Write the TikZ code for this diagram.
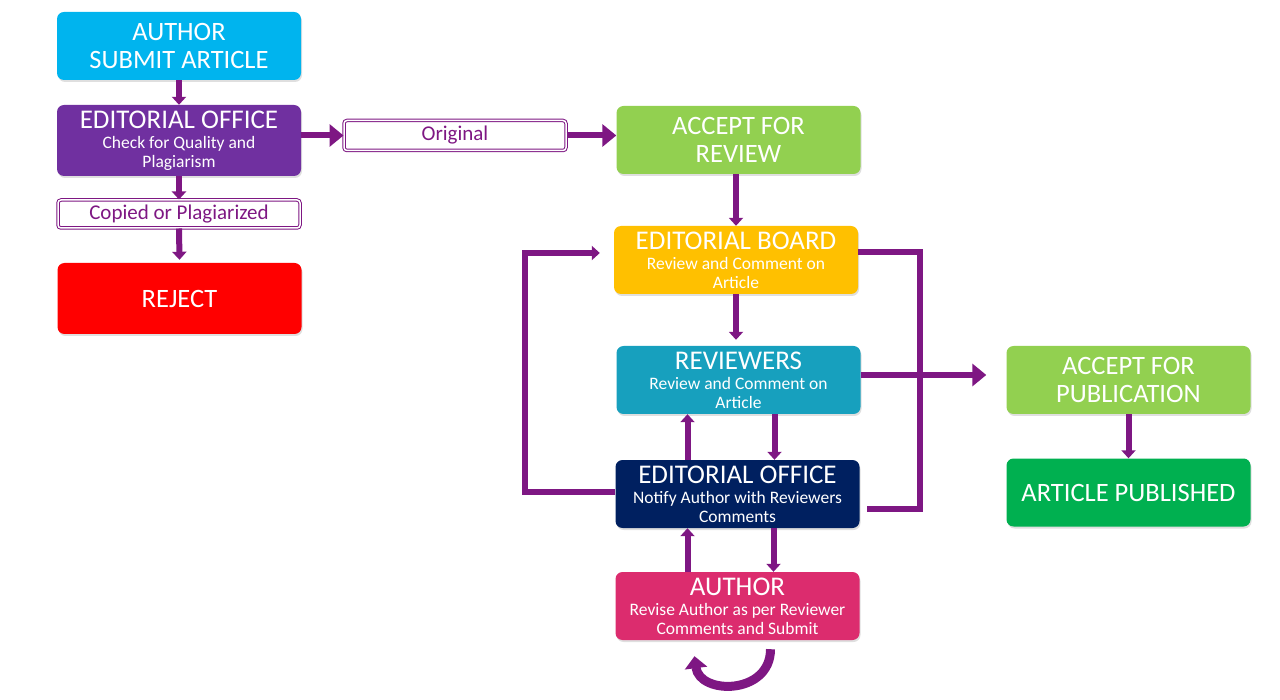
\documentclass[tikz,border=0pt]{standalone}
\usepackage{fontspec}
\setmainfont{Carlito}
\usetikzlibrary{arrows.meta,shadows,calc}
\definecolor{cCyan}{HTML}{00B4EE}
\definecolor{cPurp}{HTML}{7030A0}
\definecolor{cRed}{HTML}{FF0000}
\definecolor{cLGreen}{HTML}{92D050}
\definecolor{cGold}{HTML}{FFC000}
\definecolor{cTeal}{HTML}{17A0BE}
\definecolor{cNavy}{HTML}{002060}
\definecolor{cPink}{HTML}{DC2C6E}
\definecolor{cGreen}{HTML}{00B050}
\definecolor{cArrow}{HTML}{7E1783}
\newcommand{\ttl}[1]{{\fontsize{27}{28}\selectfont #1}}
\tikzset{
  box/.style={rounded corners=7pt, minimum width=244pt, minimum height=68pt,
    text=white, align=center, inner sep=1pt,
    drop shadow={opacity=0.25, shadow xshift=1pt, shadow yshift=-2pt}},
  tbox/.style={box, font=\fontsize{26.5}{28.5}\selectfont},
  sbox/.style={box, font=\fontsize{17.5}{18.5}\selectfont},
  lbl/.style={draw=cArrow, line width=1pt, double=white, double distance=1.5pt,
    fill=white, rounded corners=3pt, text=cArrow, minimum height=28pt,
    inner sep=1pt, font=\fontsize{21}{24}\selectfont},
  ln/.style={draw=cArrow, line width=6pt},
  sarr/.style={ln, -{Triangle[length=8pt,width=14pt]}},
  barr/.style={ln, -{Triangle[length=14pt,width=22pt]}}
}
\begin{document}
\begin{tikzpicture}[x=1pt,y=-1pt]
\useasboundingbox (0,0) rectangle (1280,700);
% left column
\node[tbox, fill=cCyan] (as) at (179,46) {AUTHOR\\SUBMIT ARTICLE};
\node[sbox, fill=cPurp, minimum height=71pt] (eo1) at (179,140.5) {\ttl{EDITORIAL OFFICE}\\[2pt]Check for Quality and\\Plagiarism};
\node[lbl, minimum width=242pt] (cp) at (179,214) {Copied or Plagiarized};
\node[tbox, fill=cRed, minimum height=71pt] (rj) at (179.5,298.5) {REJECT};
% top middle
\node[lbl, minimum width=222pt, minimum height=30pt] (og) at (455,135.5) {Original};
\node[tbox, fill=cLGreen] (ar) at (738.5,140) {ACCEPT FOR\\REVIEW};
% middle column
\node[sbox, fill=cGold] (eb) at (736,260) {\ttl{EDITORIAL BOARD}\\[2pt]Review and Comment on\\Article};
\node[sbox, fill=cTeal] (rv) at (738.5,380) {\ttl{REVIEWERS}\\[2pt]Review and Comment on\\Article};
\node[sbox, fill=cNavy] (eo2) at (737.5,494) {\ttl{EDITORIAL OFFICE}\\[2pt]Notify Author with Reviewers\\Comments};
\node[sbox, fill=cPink] (au) at (737.5,606) {\ttl{AUTHOR}\\[2pt]Revise Author as per Reviewer\\Comments and Submit};
% right column
\node[tbox, fill=cLGreen] (ap) at (1128.5,380) {ACCEPT FOR\\PUBLICATION};
\node[tbox, fill=cGreen] (pb) at (1128.5,492.5) {ARTICLE PUBLISHED};
% connectors
\draw[sarr] (as.south) -- (eo1.north);
\draw[barr] (eo1.east |- og.west) -- (og.west);
\draw[barr] (og.east) -- (og.east -| ar.west);
\draw[sarr] (eo1.south) -- (cp.north);
\draw[sarr] (cp.south) -- ([yshift=3pt]rj.north);
\draw[sarr] (ar.south -| eb.north) -- (eb.north);
\draw[sarr] (eb.south) -- ([yshift=6pt]eb.south |- rv.north);
\draw[sarr] ([xshift=36pt]rv.south) -- ([xshift=36pt]rv.south |- eo2.north);
\draw[sarr] ([xshift=-50pt]eo2.north) -- ([xshift=-50pt]eo2.north |- rv.south);
\draw[sarr] ([xshift=36pt]eo2.south) -- ([xshift=36pt]eo2.south |- au.north);
\draw[sarr] ([xshift=-50pt]au.north) -- ([xshift=-50pt]au.north |- eo2.south);
\coordinate (lft) at (525,0);
\draw[ln, -{Triangle[length=8pt,width=14pt]}] ([yshift=2pt]eo2.west) -| ([yshift=7pt]lft |- eb.west) -- ([xshift=-14pt,yshift=7pt]eb.west);
\coordinate (rgt) at (920,0);
\draw[ln] ([yshift=8pt]eb.east) -| ([yshift=-15pt]rgt |- eo2.east) -- ([xshift=7pt,yshift=-15pt]eo2.east);
\draw[barr] ([yshift=5pt]rv.east) -- ([xshift=-20pt,yshift=5pt]ap.west);
\draw[sarr] (ap.south) -- (pb.north);
% self loop under author
\draw[draw=cArrow, line width=9pt, -{Triangle[length=12pt,width=22pt]}]
  ([xshift=33pt,yshift=-9pt]au.south) .. controls ([xshift=33pt,yshift=-55pt]au.south) and ([xshift=-38pt,yshift=-55pt]au.south) .. ([xshift=-43pt,yshift=-16pt]au.south);
\end{tikzpicture}
\end{document}
